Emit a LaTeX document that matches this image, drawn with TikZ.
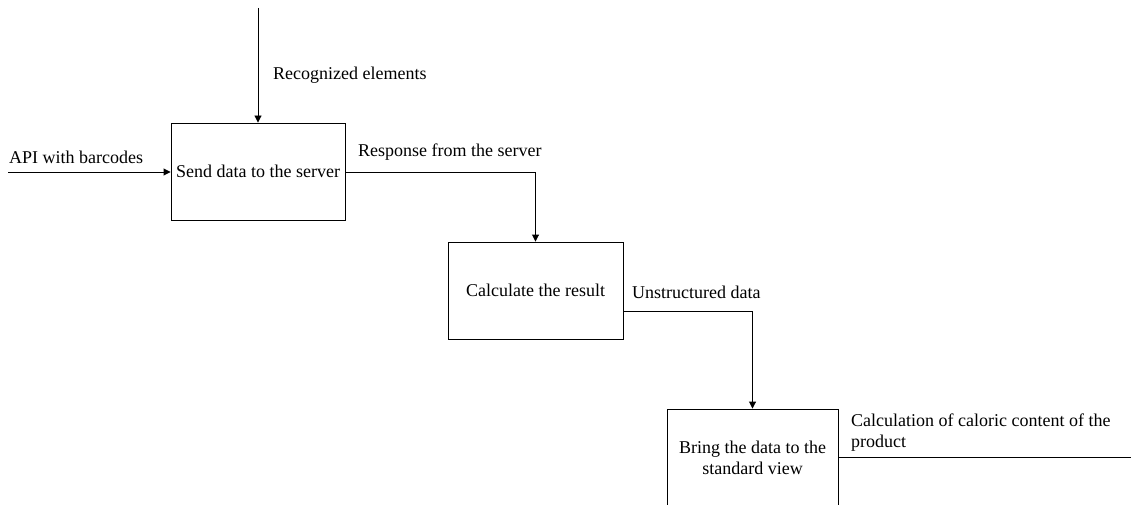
\documentclass[tikz,border=0pt]{standalone}
\usepackage{fontspec}
\setmainfont{Liberation Serif}
\usetikzlibrary{arrows.meta}
\begin{document}
\begin{tikzpicture}[x=1pt,y=-1pt,
  proc/.style={draw,line width=0.9pt,minimum height=97pt,inner sep=0pt,align=center,font=\fontsize{18}{21}\selectfont},
  lbl/.style={inner sep=0pt,font=\fontsize{18}{21}\selectfont,align=left},
  flow/.style={line width=0.9pt,-{Triangle[length=7pt,width=7pt]}},
  plain/.style={line width=0.9pt}]
\clip (0,0) rectangle (1131,505);
\fill[white] (0,0) rectangle (1131,505);
\node[proc,minimum width=174pt] (b1) at (258,171.5) {Send data to the server};
\node[proc,minimum width=175pt] (b2) at (535.5,290.5) {Calculate the result};
\node[proc,minimum width=171pt] (b3) at (752.5,457.5) {Bring the data to the\\standard view};
\coordinate (topin) at (258,8);
\coordinate (leftin) at (8,172);
\coordinate (outend) at (1131,457);
\draw[flow] (topin) -- (b1.north);
\draw[flow] (leftin) -- (leftin -| b1.west);
\draw[flow] (b1.east |- 0,172) -| (b2.north);
\draw[flow] (b2.east |- 0,311) -| (b3.north);
\draw[plain] (b3.east |- 0,457) -- (outend);
\node[lbl,anchor=west] (l1) at (273,75) {Recognized elements};
\node[lbl,anchor=west] (l2) at (9,157) {API with barcodes};
\node[lbl,anchor=west] (l3) at (358,152) {Response from the server};
\node[lbl,anchor=west] (l4) at (632,292) {Unstructured data};
\node[lbl,anchor=west] (l5) at (851,432.5) {Calculation of caloric content of the\\product};
\end{tikzpicture}
\end{document}
